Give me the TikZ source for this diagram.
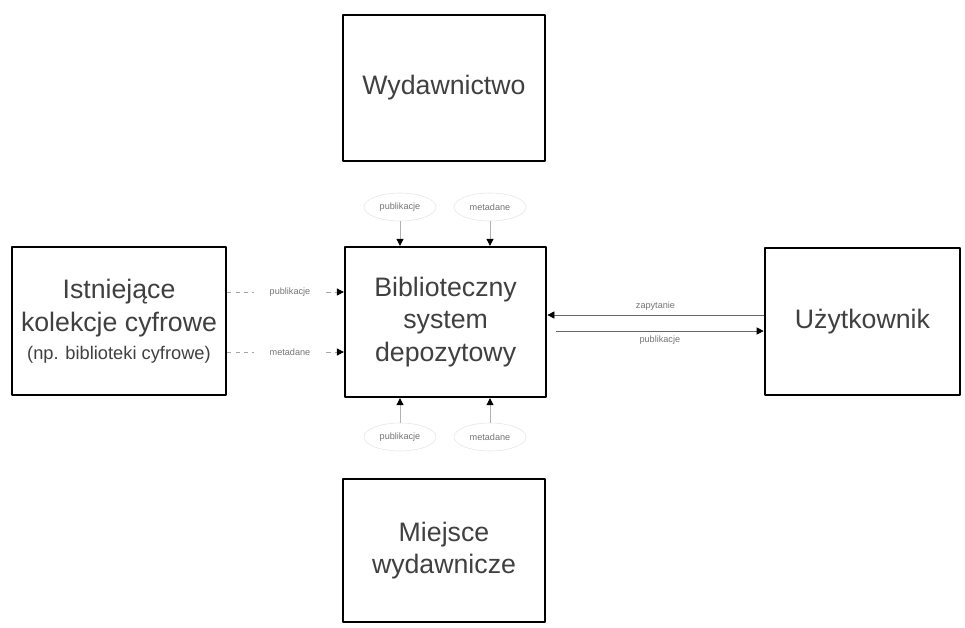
\documentclass[tikz,border=0pt]{standalone}
\usepackage{fontspec}
\setmainfont{Liberation Sans}
\usetikzlibrary{arrows.meta, shapes.geometric}
\begin{document}
\begin{tikzpicture}[line join=round, >={Triangle[length=5pt,width=5pt,color=black]},
	box/.style={draw, line width=1.6pt, text=black!75, align=center, font=\fontsize{19}{23}\selectfont, inner sep=0pt},
	tag/.style={ellipse, draw=black!10, text=black!55, font=\fontsize{6.5}{7}\selectfont, inner sep=1.5pt, minimum width=1.8cm, minimum height=0.7cm},
	flow/.style={->, black!30, line width=0.5pt}]
	\useasboundingbox (0,0) rectangle (24.125,-15.7);
	% boxes
	\node[box, minimum width=5.05cm, minimum height=3.65cm] (wyd) at (11.1,-2.2) {Wydawnictwo};
	\node[box, minimum width=5.03cm, minimum height=3.75cm] (sys) at (11.14,-8.05) {Biblioteczny\\system\\depozytowy};
	\node[box, minimum width=5.05cm, minimum height=3.58cm] (mw) at (11.1,-13.76) {Miejsce\\wydawnicze};
	\node[box, minimum width=5.35cm, minimum height=3.7cm] (kol) at (2.975,-8.03) {Istniejące\\kolekcje cyfrowe\\[-3pt]{\fontsize{13}{15}\selectfont(np. biblioteki cyfrowe)}};
	\node[box, minimum width=4.88cm, minimum height=3.68cm] (uz) at (21.56,-8.04) {Użytkownik};
	% labels
	\node[tag] (tA) at (10,-5.175) {publikacje};
	\node[tag] (tB) at (12.25,-5.175) {metadane};
	\node[tag] (bA) at (10,-10.925) {publikacje};
	\node[tag] (bB) at (12.25,-10.925) {metadane};
	\node[tag, draw=none] (lA) at (7.25,-7.3) {publikacje};
	\node[tag, draw=none] (lB) at (7.25,-8.8) {metadane};
	% top and bottom
	\foreach \p in {tA, tB}
	\draw[flow] (\p.south) -- (\p.south |- sys.north);
	\foreach \p in {bA, bB}
	\draw[flow] (\p.north) -- (\p.north |- sys.south);
	% left
	\foreach \p in {lA, lB}
	{
	\draw[black!35, dashed] (\p.west -| kol.east) -- (\p.west);
	\draw[flow, black!35, dashed] (\p.east) -- (\p.east -| sys.west);
	}
	% right
	\coordinate (uIn) at (21.56,-7.875);
	\coordinate (uOut) at (13.9,-8.275);
	\draw[flow, black!60] (uIn -| uz.west) -- node[above, text=black!55, font=\fontsize{6.5}{7}\selectfont] (rA) {zapytanie} (uIn -| sys.east);
	\draw[flow, black!60] (uOut) -- node[below, text=black!55, font=\fontsize{6.5}{7}\selectfont] (rB) {publikacje} (uOut -| uz.west);
\end{tikzpicture}
\end{document}
